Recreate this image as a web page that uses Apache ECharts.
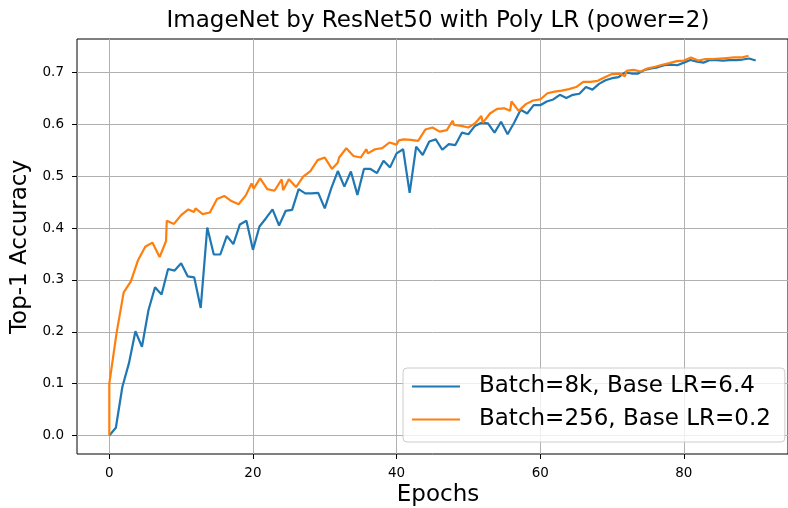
<!DOCTYPE html>
<html>
<head>
<meta charset="utf-8">
<title>ImageNet by ResNet50 with Poly LR (power=2)</title>
<script src="https://cdn.jsdelivr.net/npm/echarts@6.0.0/dist/echarts.min.js"></script>
<style>
  html, body { margin: 0; padding: 0; background: #fff; }
  #main { width: 788px; height: 508px; }
</style>
</head>
<body>
<div id="main"></div>
<script>
// tick values
const xTicks = [0, 20, 40, 60, 80];
const yTicks = [0, 0.1, 0.2, 0.3, 0.4, 0.5, 0.6, 0.7];
const seriesNames = ['Batch=8k, Base LR=6.4', 'Batch=256, Base LR=0.2'];

// Batch=8k: 100 evaluations spread evenly over 90 epochs
const acc8k = [
  0.000, 0.015, 0.094, 0.139, 0.201, 0.171, 0.242, 0.286, 0.272, 0.321,
  0.318, 0.332, 0.307, 0.305, 0.246, 0.401, 0.349, 0.349, 0.385, 0.369,
  0.407, 0.414, 0.358, 0.403, 0.419, 0.436, 0.405, 0.433, 0.435, 0.475,
  0.467, 0.467, 0.468, 0.438, 0.477, 0.510, 0.480, 0.509, 0.464, 0.514,
  0.514, 0.506, 0.530, 0.517, 0.544, 0.552, 0.468, 0.557, 0.541, 0.567,
  0.571, 0.551, 0.562, 0.560, 0.584, 0.581, 0.597, 0.603, 0.602, 0.584,
  0.605, 0.581, 0.603, 0.628, 0.621, 0.637, 0.637, 0.644, 0.648, 0.657,
  0.651, 0.657, 0.659, 0.672, 0.667, 0.678, 0.685, 0.689, 0.691, 0.700,
  0.698, 0.698, 0.705, 0.708, 0.710, 0.714, 0.715, 0.714, 0.719, 0.724,
  0.721, 0.719, 0.724, 0.724, 0.723, 0.724, 0.724, 0.725, 0.727, 0.723
];
const epochs8k = acc8k.map((v, i) => i * 90 / (acc8k.length - 1));

// Batch=256: one point per epoch, plus a few doubled points
const epochs256 = [
  0, 0, 1, 2, 3, 4, 5, 6, 7, 7.9,
  8, 9, 10, 11, 11.8, 12, 13, 14, 15, 16,
  17, 18, 19, 19.8, 20.1, 21, 22, 23, 24, 24.2,
  25, 26, 27, 28, 29, 30, 31, 31.8, 32, 33,
  34, 35, 35.8, 36, 37, 38, 39, 40, 40.3, 41,
  42, 43, 44, 45, 46, 47, 47.8, 48, 49, 50,
  51, 51.8, 52, 53, 54, 55, 55.8, 56, 57, 58,
  59, 60, 61, 62, 63, 64, 65, 66, 67, 68,
  69, 70, 71, 71.8, 72, 73, 74, 75, 76, 77,
  78, 79, 80, 81, 82, 83, 84, 85, 86, 87,
  88, 89
];
const acc256 = [
  0.000, 0.100, 0.197, 0.276, 0.297, 0.338, 0.364, 0.372, 0.344, 0.375,
  0.414, 0.408, 0.425, 0.436, 0.431, 0.438, 0.427, 0.430, 0.456, 0.462,
  0.452, 0.446, 0.463, 0.486, 0.476, 0.496, 0.475, 0.472, 0.494, 0.473,
  0.494, 0.479, 0.499, 0.510, 0.531, 0.536, 0.514, 0.526, 0.536, 0.554,
  0.539, 0.536, 0.552, 0.544, 0.552, 0.554, 0.565, 0.561, 0.569, 0.571,
  0.570, 0.568, 0.590, 0.594, 0.586, 0.589, 0.607, 0.599, 0.597, 0.594,
  0.603, 0.616, 0.603, 0.621, 0.630, 0.631, 0.626, 0.644, 0.626, 0.639,
  0.646, 0.648, 0.660, 0.663, 0.665, 0.668, 0.672, 0.682, 0.682, 0.684,
  0.691, 0.697, 0.698, 0.693, 0.703, 0.705, 0.702, 0.708, 0.711, 0.715,
  0.718, 0.722, 0.723, 0.729, 0.723, 0.726, 0.726, 0.727, 0.728, 0.729,
  0.729, 0.732
];

const font = 'DejaVu Sans';
const chart = echarts.init(document.getElementById('main'), null, { renderer: 'canvas' });

const option = {
  animation: false,
  backgroundColor: '#fff',
  grid: {
    left: 77, right: -11, top: 39, bottom: 54,
    show: true, borderColor: '#000', borderWidth: 1, backgroundColor: 'transparent'
  },
  xAxis: {
    type: 'value', min: -4.5, max: 94.5,
    axisLine: { show: false, onZero: false },
    axisTick: { customValues: xTicks, length: 5, lineStyle: { color: '#000', width: 1 } },
    axisLabel: {
      customValues: xTicks, margin: 12, fontFamily: font, fontSize: 13.5, color: '#000',
      formatter: v => String(v)
    },
    splitLine: { show: true, lineStyle: { color: '#b0b0b0', width: 1 } }
  },
  yAxis: {
    type: 'value', min: -0.0357, max: 0.7646,
    axisLine: { show: false, onZero: false },
    axisTick: { customValues: yTicks, length: 5, lineStyle: { color: '#000', width: 1 } },
    axisLabel: {
      customValues: yTicks, margin: 13, fontFamily: font, fontSize: 13.5, color: '#000',
      formatter: v => v.toFixed(1)
    },
    splitLine: { show: true, lineStyle: { color: '#b0b0b0', width: 1 } }
  },
  legend: {
    orient: 'vertical', left: 403, top: 368,
    itemWidth: 48, itemHeight: 14, itemGap: 10,
    padding: [7, 14, 11, 8],
    backgroundColor: 'rgba(255,255,255,0.8)',
    borderColor: '#cccccc', borderWidth: 1, borderRadius: 4,
    itemStyle: { opacity: 0 },
    textStyle: { fontFamily: font, fontSize: 23, color: '#000', lineHeight: 23, padding: [0, 0, 0, 14] },
    data: seriesNames
  },
  graphic: [
    {
      type: 'text', x: 438, y: 21,
      style: { text: 'ImageNet by ResNet50 with Poly LR (power=2)', font: '23px "DejaVu Sans"', fill: '#000', align: 'center', verticalAlign: 'middle' }
    },
    {
      type: 'text', x: 438, y: 495,
      style: { text: 'Epochs', font: '23px "DejaVu Sans"', fill: '#000', align: 'center', verticalAlign: 'middle' }
    },
    {
      type: 'text', x: 20, y: 247, rotation: Math.PI / 2,
      style: { text: 'Top-1 Accuracy', font: '23px "DejaVu Sans"', fill: '#000', align: 'center', verticalAlign: 'middle' }
    }
  ],
  series: [
    {
      name: seriesNames[0], type: 'line', symbol: 'none', showSymbol: false,
      data: epochs8k.map((e, i) => [e, acc8k[i]]),
      lineStyle: { color: '#1f77b4', width: 2.2 }, itemStyle: { color: '#1f77b4' }
    },
    {
      name: seriesNames[1], type: 'line', symbol: 'none', showSymbol: false,
      data: epochs256.map((e, i) => [e, acc256[i]]),
      lineStyle: { color: '#ff7f0e', width: 2.2 }, itemStyle: { color: '#ff7f0e' }
    }
  ]
};

chart.setOption(option);
</script>
</body>
</html>
